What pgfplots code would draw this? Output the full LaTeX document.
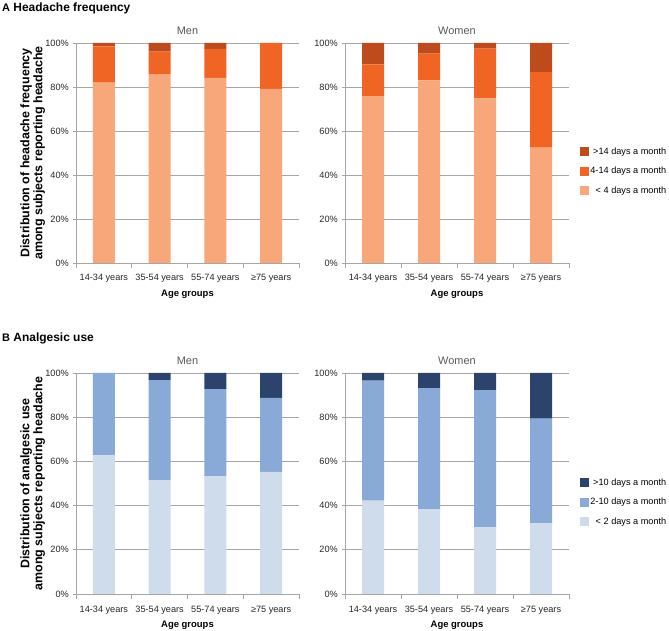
\documentclass[border=0pt]{standalone}
\usepackage{pgfplots}
\pgfplotsset{compat=1.18}
\usepackage{fontspec}
\setmainfont{Liberation Sans}
\definecolor{aL}{HTML}{F8A77A}
\definecolor{aM}{HTML}{F06424}
\definecolor{aD}{HTML}{BE4B1B}
\definecolor{bL}{HTML}{CEDCEC}
\definecolor{bM}{HTML}{89AAD6}
\definecolor{bD}{HTML}{2C446C}
\definecolor{gridgray}{HTML}{A6A6A6}
\definecolor{titlegray}{HTML}{595959}
\definecolor{textcol}{HTML}{262626}
\pgfplotsset{
  panel/.style={
    scale only axis, width=223bp, height=220bp,
    ybar stacked, bar width=22bp,
    xmin=-0.5, xmax=3.5, ymin=0, ymax=100,
    axis x line*=bottom, axis y line*=left,
    axis line style={draw=gridgray, line width=0.8bp},
    xtick={0,1,2,3},
    xticklabels={14-34 years,35-54 years,55-74 years,≥75 years},
    xtick style={draw=none},
    extra x ticks={-0.5,0.5,1.5,2.5,3.5},
    extra x tick labels={},
    extra x tick style={xtick style={draw=gridgray,line width=0.8bp}, major tick length=5bp},
    ytick={0,20,40,60,80,100},
    yticklabels={0\%,20\%,40\%,60\%,80\%,100\%},
    ytick style={draw=gridgray,line width=0.8bp},
    tick align=outside, major tick length=3bp,
    ymajorgrids, grid style={gridgray,line width=0.8bp},
    xticklabel style={font=\fontsize{9.2}{10}\selectfont, text=textcol, anchor=base, yshift=-15bp},
    yticklabel style={font=\fontsize{9.2}{10}\selectfont, text=textcol, anchor=east, inner sep=0pt, xshift=-4bp},
    title style={font=\fontsize{11}{12}\selectfont, text=titlegray, at={(axis description cs:0.5,1)}, anchor=base, yshift=3bp},
    every axis x label/.style={at={(axis description cs:0.5,-0.14)}, anchor=center, font=\bfseries\fontsize{9.5}{11}\selectfont},
    every axis y label/.style={at={(axis description cs:-0.194,0.5)}, rotate=90, anchor=center, align=center, font=\bfseries\fontsize{12.5}{13}\selectfont},
    xlabel={Age groups},
    every axis plot/.append style={draw=none},
  },
  leg/.style={
    reverse legend,
    legend cell align=right,
    legend image code/.code={\fill[##1] (0bp,-4.5bp) rectangle (9bp,4.5bp);},
    legend style={draw=none, fill=none, inner sep=0pt, at={(rel axis cs:1.05,0.418)}, anchor=west,
      font=\fontsize{9.2}{10}\selectfont, row sep=8.5bp,
      nodes={inner sep=1bp, text height=7bp, text depth=2bp}},
  },
}
\begin{document}
\begin{tikzpicture}
\useasboundingbox (0,0) rectangle (669bp,631bp);
\node[anchor=base west, font=\bfseries\fontsize{12}{14}\selectfont, inner sep=0pt] at (2bp,619.5bp) {{\fontsize{11}{12}\selectfont A} Headache frequency};
\node[anchor=base west, font=\bfseries\fontsize{12}{14}\selectfont, inner sep=0pt] at (2bp,289.5bp) {{\fontsize{11}{12}\selectfont B} Analgesic use};

% A Men
\begin{axis}[panel, at={(76bp,368bp)}, anchor=south west, title={Men},
  ylabel={Distribution of headache frequency\\among subjects reporting headache}]
\addplot[fill=aL] coordinates {(0,82.0) (1,85.9) (2,84.1) (3,79.1)};
\addplot[fill=aM] coordinates {(0,16.5) (1,10.2) (2,13.2) (3,20.9)};
\addplot[fill=aD] coordinates {(0,1.5) (1,3.9) (2,2.7) (3,0)};
\end{axis}
% A Women
\begin{axis}[panel, leg, width=224bp, at={(345bp,368bp)}, anchor=south west, title={Women}]
\addplot[fill=aL] coordinates {(0,75.8) (1,83.0) (2,74.8) (3,52.4)};
\addlegendentry{\hspace{2bp}< 4 days a month}
\addplot[fill=aM] coordinates {(0,14.5) (1,12.2) (2,22.6) (3,34.4)};
\addlegendentry{4-14 days a month}
\addplot[fill=aD] coordinates {(0,9.7) (1,4.8) (2,2.6) (3,13.2)};
\addlegendentry{>14 days a month}
\end{axis}
% B Men
\begin{axis}[panel, height=221bp, at={(76bp,37bp)}, anchor=south west, title={Men},
  ylabel={Distribution of analgesic use\\among subjects reporting headache}]
\addplot[fill=bL] coordinates {(0,62.7) (1,51.4) (2,53.2) (3,55.3)};
\addplot[fill=bM] coordinates {(0,37.3) (1,45.4) (2,39.5) (3,33.5)};
\addplot[fill=bD] coordinates {(0,0) (1,3.2) (2,7.3) (3,11.2)};
\end{axis}
% B Women
\begin{axis}[panel, leg, height=221bp, width=224bp, at={(345bp,37bp)}, anchor=south west, title={Women},
  legend style={at={(rel axis cs:1.05,0.416)}}]
\addplot[fill=bL] coordinates {(0,42.3) (1,38.4) (2,30.2) (3,32.0)};
\addlegendentry{\hspace{2bp}< 2 days a month}
\addplot[fill=bM] coordinates {(0,54.2) (1,54.8) (2,62.1) (3,47.3)};
\addlegendentry{2-10 days a month}
\addplot[fill=bD] coordinates {(0,3.5) (1,6.8) (2,7.7) (3,20.7)};
\addlegendentry{>10 days a month}
\end{axis}
\end{tikzpicture}
\end{document}
